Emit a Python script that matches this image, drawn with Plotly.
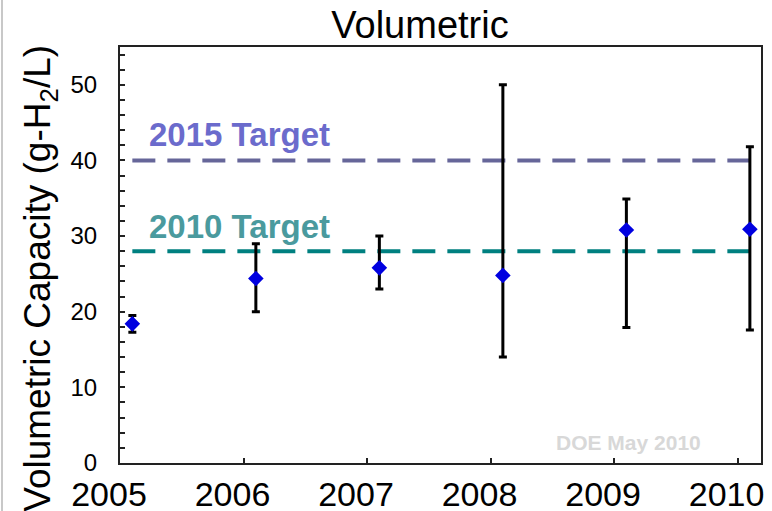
import plotly.graph_objects as go

# ---- data ----
years = [2005, 2006, 2007, 2008, 2009, 2010]
point_offset = 0.1
capacity = [18.4, 24.4, 25.8, 24.8, 30.8, 30.9]
err_high = [19.5, 29.0, 30.0, 50.0, 34.9, 41.8]
err_low = [17.3, 20.0, 23.0, 14.0, 17.9, 17.6]

target_labels = ["2015 Target", "2010 Target"]
target_values = [40, 28]
target_line_colors = ["#666699", "#008080"]
target_text_colors = ["#6B6BCC", "#4A9A9E"]
target_label_y = [43.4, 31.3]

x_ticks = [2005, 2006, 2007, 2008, 2009, 2010]
y_ticks = [0, 10, 20, 30, 40, 50]

FONT = "Liberation Sans, Arial, sans-serif"

xs = [y + point_offset for y in years]
plus = [h - v for h, v in zip(err_high, capacity)]
minus = [v - l for v, l in zip(capacity, err_low)]

fig = go.Figure()

for val, col in zip(target_values, target_line_colors):
    fig.add_trace(go.Scatter(
        x=[xs[0], xs[-1]], y=[val, val], mode="lines",
        line=dict(color=col, width=4, dash="23px,12px"),
        hoverinfo="skip", showlegend=False))

fig.add_trace(go.Scatter(
    x=xs, y=capacity, mode="markers",
    marker=dict(symbol="diamond", size=12, color="#0000E0"),
    error_y=dict(type="data", symmetric=False, array=plus, arrayminus=minus,
                 color="black", thickness=3, width=4),
    showlegend=False))

annotations = []
for lab, ly, tc in zip(target_labels, target_label_y, target_text_colors):
    annotations.append(dict(
        x=2005.97, y=ly, xref="x", yref="y", text="<b>%s</b>" % lab,
        showarrow=False, font=dict(family=FONT, size=33, color=tc),
        xanchor="center", yanchor="middle"))

annotations.append(dict(
    x=2009.12, y=2.7, xref="x", yref="y", text="<b>DOE May 2010</b>",
    showarrow=False, font=dict(family=FONT, size=21, color="#D8D8D8"),
    xanchor="center", yanchor="middle"))

annotations.append(dict(
    x=-0.1248, y=0.443, xref="paper", yref="paper",
    text="Volumetric Capacity (g-H<sub>2</sub>/L)", textangle=-90,
    showarrow=False, font=dict(family=FONT, size=37, color="black"),
    xanchor="center", yanchor="middle"))

fig.update_layout(
    width=772, height=511,
    margin=dict(l=120, r=11, t=47, b=48, autoexpand=False),
    paper_bgcolor="white", plot_bgcolor="white",
    title=dict(text="Volumetric", x=420 / 772, xanchor="center",
               y=1 - 25 / 511, yanchor="middle",
               font=dict(family=FONT, size=38, color="black")),
    annotations=annotations,
    shapes=[dict(type="line", xref="paper", yref="paper",
                 x0=(2 - 120) / 641, x1=(2 - 120) / 641, y0=-1, y1=2,
                 line=dict(color="#C8C8C8", width=2))],
)

fig.update_xaxes(
    range=[2005, 2010.19], tickvals=x_ticks, ticktext=[str(t) for t in x_ticks],
    ticks="inside", ticklen=5, tickwidth=1.5, tickcolor="#222",
    showline=True, linecolor="#222", linewidth=2, mirror=True,
    showgrid=False, zeroline=False, automargin=False,
    tickfont=dict(family=FONT, size=34, color="black"),
    ticklabelshift=-11, ticklabelstandoff=0,
)
fig.update_yaxes(
    range=[0, 55], tickvals=y_ticks, ticks="inside", ticklen=5, tickwidth=1.5,
    tickcolor="#222",
    minor=dict(dtick=2, ticks="inside", ticklen=5, tickwidth=1.5, tickcolor="#222"),
    showline=True, linecolor="#222", linewidth=2, mirror=True,
    showgrid=False, zeroline=False, automargin=False,
    tickfont=dict(family=FONT, size=24, color="black"),
    ticklabelstandoff=16,
)

fig.write_html("out.html", config={"displayModeBar": False},
               post_script="document.body.style.margin='0';document.body.style.overflow='hidden';")
